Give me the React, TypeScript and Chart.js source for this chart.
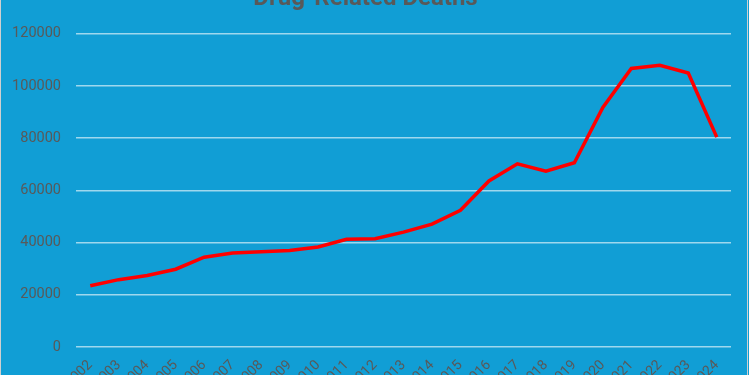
import React, { useEffect, useRef } from "react";
import { Chart, registerables } from "chart.js";

Chart.register(...registerables);

const years = [
  "2002", "2003", "2004", "2005", "2006", "2007", "2008", "2009", "2010", "2011", "2012",
  "2013", "2014", "2015", "2016", "2017", "2018", "2019", "2020", "2021", "2022", "2023", "2024",
];
const deaths = [
  23500, 25800, 27400, 29800, 34400, 36000, 36500, 37000, 38300, 41300, 41500,
  44000, 47100, 52400, 63600, 70200, 67400, 70600, 91800, 106700, 107900, 105000, 80400,
];
const titleText = "Drug-Related Deaths";

const BG = "#119ED5";
const TXT = "#595959";
const FONT = "Roboto, 'Liberation Sans', sans-serif";

const bgPlugin = {
  id: "bgPlugin",
  beforeDraw(chart: any) {
    const { ctx, width, height } = chart;
    ctx.save();
    ctx.fillStyle = BG;
    ctx.fillRect(0, 0, width, height);
    ctx.strokeStyle = "#d0d0d0";
    ctx.lineWidth = 1;
    ctx.strokeRect(0.5, 0.5, width - 2, height - 1);
    ctx.restore();
  },
};

export default function App() {
  const ref = useRef<HTMLCanvasElement | null>(null);
  useEffect(() => {
    if (!ref.current) return;
    const chart = new Chart(ref.current, {
      type: "line",
      data: {
        labels: years,
        datasets: [
          {
            data: deaths,
            borderColor: "#FF0000",
            borderWidth: 3.5,
            pointRadius: 0,
            tension: 0,
            fill: false,
          },
        ],
      },
      options: {
        responsive: false,
        animation: false,
        devicePixelRatio: 1,
        layout: { padding: { left: 0, right: 18, top: 0, bottom: 0 } },
        plugins: {
          legend: { display: false },
          tooltip: { enabled: false },
          title: {
            display: true,
            text: titleText,
            color: TXT,
            font: { family: FONT, size: 24, weight: "bold" },
            padding: { top: 5, bottom: 20 },
          },
        },
        scales: {
          x: {
            offset: true,
            grid: { display: false, drawTicks: false },
            border: { display: false },
            ticks: {
              color: TXT,
              font: { family: FONT, size: 14 },
              minRotation: 45,
              maxRotation: 45,
              autoSkip: false,
              padding: 10,
            },
            afterFit(scale: any) {
              scale.height = 53;
            },
          },
          y: {
            min: 0,
            max: 120000,
            grid: { color: "rgba(255,255,255,0.6)", lineWidth: 1.5, drawTicks: false },
            border: { display: false },
            ticks: {
              stepSize: 20000,
              color: TXT,
              font: { family: FONT, size: 14.5 },
              padding: 15,
              callback: (v: any) => String(v),
            },
            afterFit(scale: any) {
              scale.width = 76;
            },
          },
        },
      },
      plugins: [bgPlugin],
    });
    return () => chart.destroy();
  }, []);
  return (
    <div style={{ position: "absolute", left: 0, top: -20, width: 749, height: 420 }}>
      <canvas ref={ref} width={749} height={420} style={{ display: "block" }} />
    </div>
  );
}
